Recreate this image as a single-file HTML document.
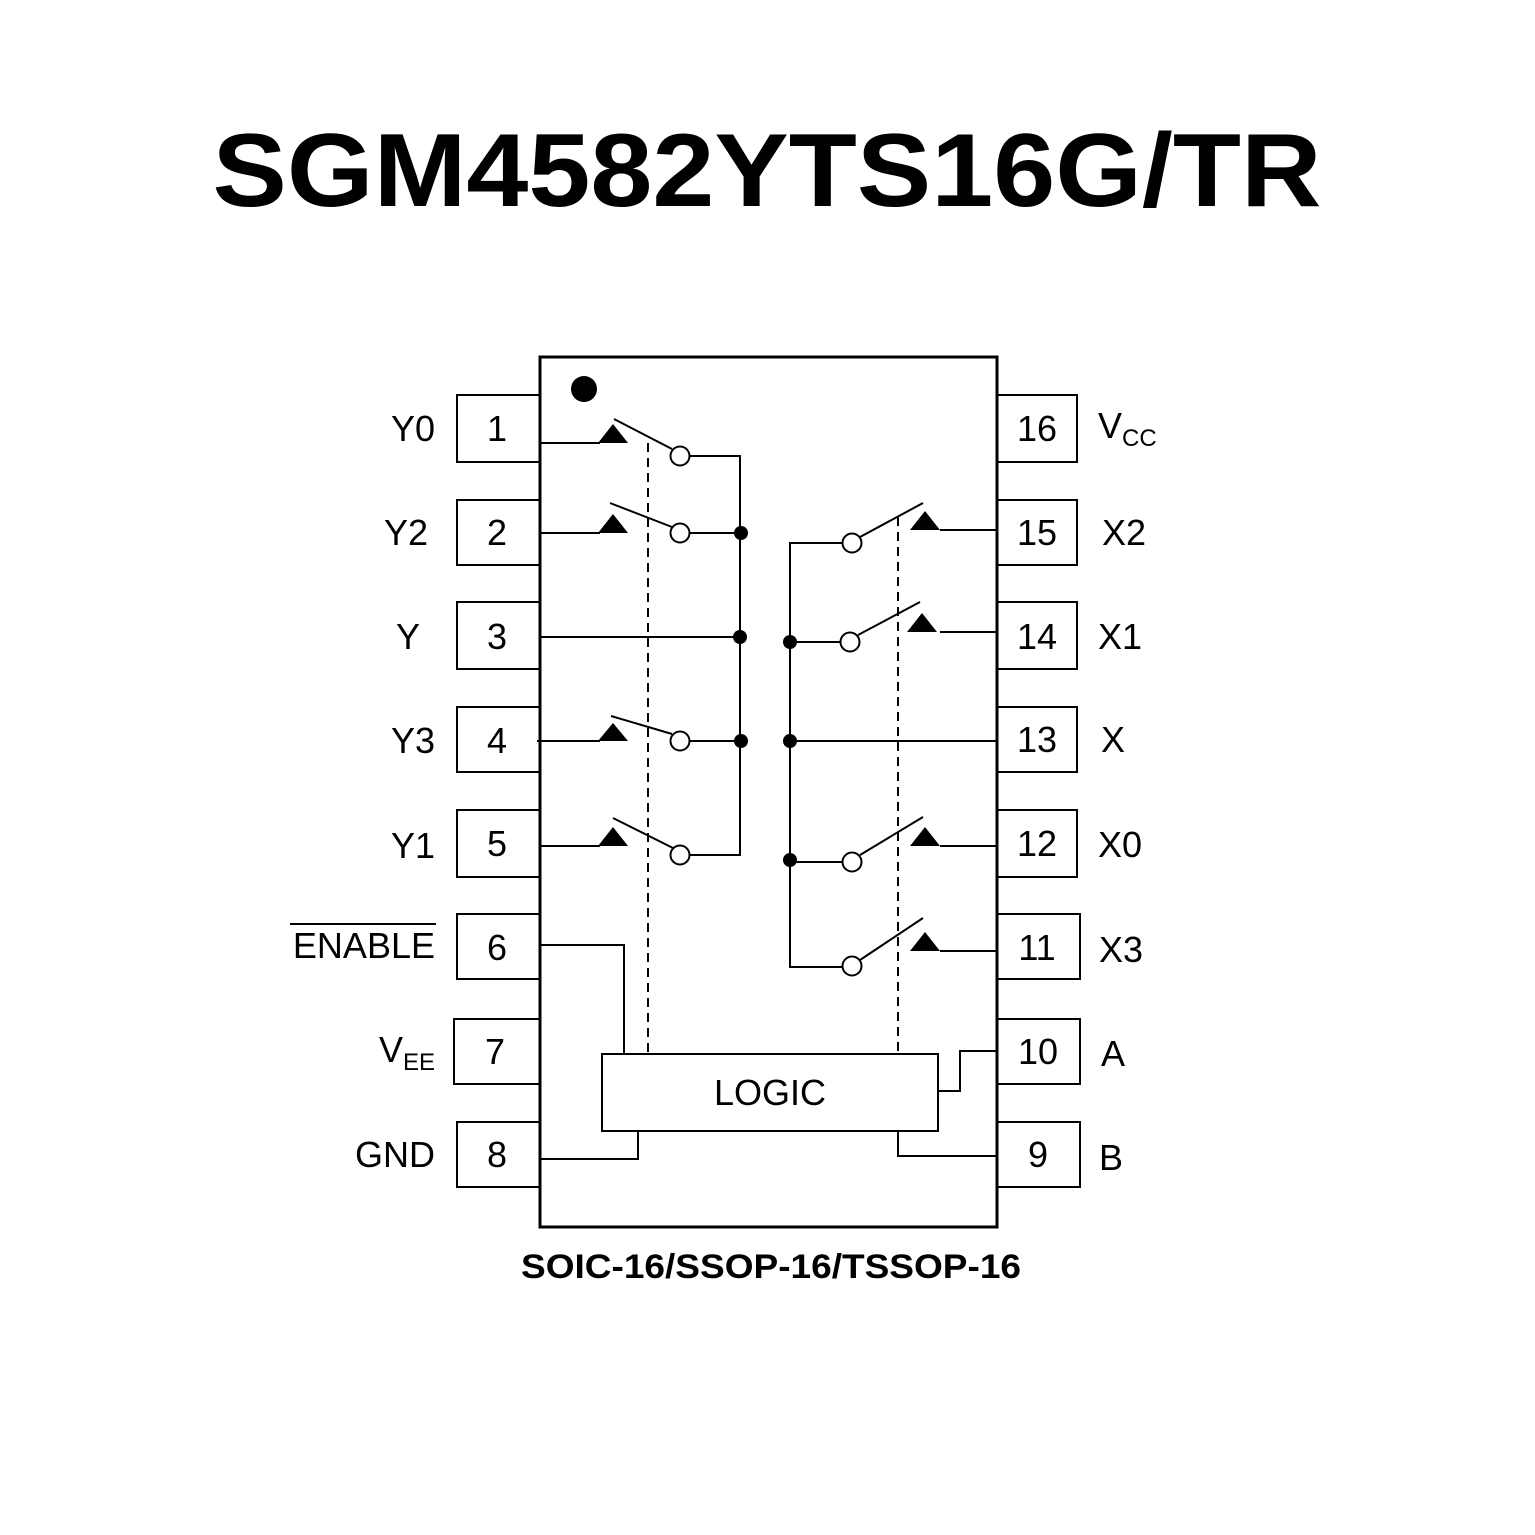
<!DOCTYPE html>
<html><head><meta charset="utf-8"><style>
html,body{margin:0;padding:0;background:#fff;}
svg{display:block;}
text{font-family:"Liberation Sans",Arial,sans-serif;fill:#000;}
</style></head><body>
<svg width="1535" height="1535" viewBox="0 0 1535 1535" xmlns="http://www.w3.org/2000/svg">
<rect width="1535" height="1535" fill="#fff"/>
<text x="767" y="206" text-anchor="middle" font-size="104" font-weight="bold" textLength="1109" lengthAdjust="spacingAndGlyphs">SGM4582YTS16G/TR</text>

<g fill="none" stroke="#000" stroke-width="2">
<rect x="457" y="395" width="83" height="67"/>
<rect x="457" y="500" width="83" height="65"/>
<rect x="457" y="602" width="83" height="67"/>
<rect x="457" y="707" width="83" height="65"/>
<rect x="457" y="810" width="83" height="67"/>
<rect x="457" y="914" width="83" height="65"/>
<rect x="454" y="1019" width="86" height="65"/>
<rect x="457" y="1122" width="83" height="65"/>
<rect x="997" y="395" width="80" height="67"/>
<rect x="997" y="500" width="80" height="65"/>
<rect x="997" y="602" width="80" height="67"/>
<rect x="997" y="707" width="80" height="65"/>
<rect x="997" y="810" width="80" height="67"/>
<rect x="997" y="914" width="83" height="65"/>
<rect x="997" y="1019" width="83" height="65"/>
<rect x="997" y="1122" width="83" height="65"/>
</g>
<rect x="540" y="357" width="457" height="870" fill="#fff" stroke="#000" stroke-width="3"/>
<circle cx="584" cy="389" r="13" fill="#000"/>

<g fill="none" stroke="#000" stroke-width="2">
<line x1="540" y1="443" x2="600" y2="443"/>
<line x1="540" y1="533" x2="600" y2="533"/>
<line x1="540" y1="637" x2="740" y2="637"/>
<line x1="537" y1="741" x2="600" y2="741"/>
<line x1="540" y1="846" x2="600" y2="846"/>
<line x1="614" y1="419" x2="672" y2="449"/>
<line x1="610" y1="503" x2="672" y2="527"/>
<line x1="611" y1="716" x2="672" y2="734"/>
<line x1="613" y1="818" x2="673" y2="848"/>
<polyline points="689,456 740,456 740,855 689,855"/>
<line x1="689" y1="533" x2="740" y2="533"/>
<line x1="689" y1="741" x2="740" y2="741"/>
<line x1="648" y1="443" x2="648" y2="1054" stroke-dasharray="9,6"/>
<line x1="940" y1="530" x2="997" y2="530"/>
<line x1="940" y1="632" x2="997" y2="632"/>
<line x1="790" y1="741" x2="997" y2="741"/>
<line x1="940" y1="846" x2="997" y2="846"/>
<line x1="940" y1="951" x2="997" y2="951"/>
<polyline points="843,543 790,543 790,967 843,967"/>
<line x1="790" y1="642" x2="841" y2="642"/>
<line x1="790" y1="862" x2="843" y2="862"/>
<line x1="860" y1="537" x2="923" y2="503"/>
<line x1="858" y1="635" x2="920" y2="602"/>
<line x1="860" y1="855" x2="923" y2="817"/>
<line x1="860" y1="960" x2="923" y2="918"/>
<line x1="898" y1="517" x2="898" y2="1054" stroke-dasharray="9,6"/>
<rect x="602" y="1054" width="336" height="77"/>
<polyline points="540,945 624,945 624,1054"/>
<polyline points="540,1159 638,1159 638,1131"/>
<polyline points="997,1051 960,1051 960,1091 938,1091"/>
<polyline points="997,1156 898,1156 898,1131"/>
</g>

<g fill="#000">
<polygon points="598,443 628,443 613,424"/>
<polygon points="598,533 628,533 613,514"/>
<polygon points="598,741 628,741 613,723"/>
<polygon points="598,846 628,846 613,827"/>
<polygon points="910,530 940,530 925,511"/>
<polygon points="907,632 937,632 922,613"/>
<polygon points="910,846 940,846 925,827"/>
<polygon points="910,951 940,951 925,932"/>
<circle cx="741" cy="533" r="7"/>
<circle cx="740" cy="637" r="7"/>
<circle cx="741" cy="741" r="7"/>
<circle cx="790" cy="642" r="7"/>
<circle cx="790" cy="741" r="7"/>
<circle cx="790" cy="860" r="7"/>
</g>
<g fill="#fff" stroke="#000" stroke-width="2">
<circle cx="680" cy="456" r="9.5"/>
<circle cx="680" cy="533" r="9.5"/>
<circle cx="680" cy="741" r="9.5"/>
<circle cx="680" cy="855" r="9.5"/>
<circle cx="852" cy="543" r="9.5"/>
<circle cx="850" cy="642" r="9.5"/>
<circle cx="852" cy="862" r="9.5"/>
<circle cx="852" cy="966" r="9.5"/>
</g>

<g font-size="36" text-anchor="middle">
<text x="497" y="441">1</text>
<text x="497" y="545">2</text>
<text x="497" y="649">3</text>
<text x="497" y="753">4</text>
<text x="497" y="856">5</text>
<text x="497" y="960">6</text>
<text x="495" y="1064">7</text>
<text x="497" y="1167">8</text>
<text x="1037" y="441">16</text>
<text x="1037" y="545">15</text>
<text x="1037" y="649">14</text>
<text x="1037" y="752">13</text>
<text x="1037" y="856">12</text>
<text x="1037" y="960">11</text>
<text x="1038" y="1064">10</text>
<text x="1038" y="1167">9</text>
<text x="770" y="1105">LOGIC</text>
</g>
<g font-size="36" text-anchor="end">
<text x="435" y="441">Y0</text>
<text x="428" y="545">Y2</text>
<text x="420" y="649">Y</text>
<text x="435" y="753">Y3</text>
<text x="435" y="858">Y1</text>
<text x="435" y="958">ENABLE</text>
<text x="435" y="1167">GND</text>
</g>
<line x1="290" y1="924" x2="436" y2="924" stroke="#000" stroke-width="2"/>
<text x="379" y="1062" font-size="36">V<tspan font-size="24" dy="8">EE</tspan></text>
<g font-size="36">
<text x="1098" y="438">V<tspan font-size="24" dy="8">CC</tspan></text>
<text x="1102" y="545">X2</text>
<text x="1098" y="649">X1</text>
<text x="1101" y="752">X</text>
<text x="1098" y="857">X0</text>
<text x="1099" y="962">X3</text>
<text x="1101" y="1066">A</text>
<text x="1099" y="1170">B</text>
</g>
<text x="771" y="1278" font-size="34" font-weight="bold" text-anchor="middle" textLength="500" lengthAdjust="spacingAndGlyphs">SOIC-16/SSOP-16/TSSOP-16</text>
</svg>
</body></html>
